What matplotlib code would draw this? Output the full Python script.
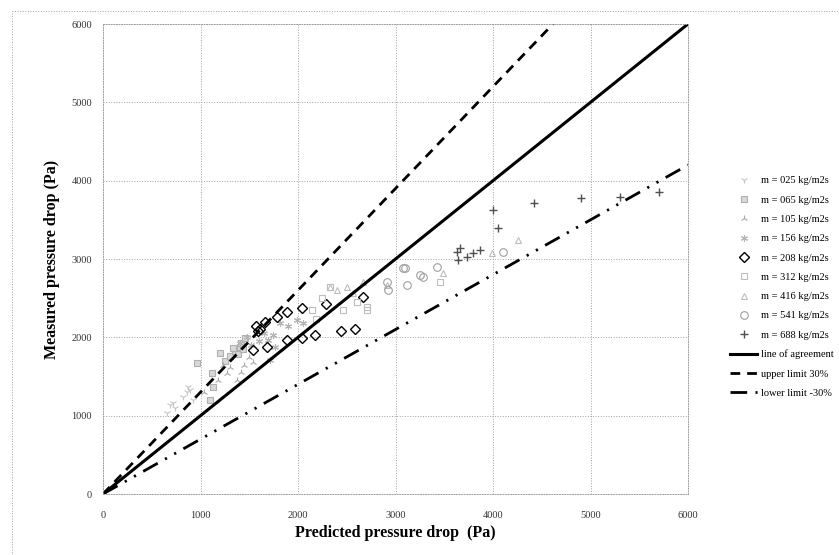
import matplotlib
matplotlib.use("Agg")
import matplotlib.pyplot as plt
from matplotlib.lines import Line2D

plt.rcParams['font.family'] = ['Liberation Serif', 'DejaVu Serif']

# predicted / measured pressure drop (Pa) per mass flux series
pred_025 = [653, 687, 721, 824, 875, 892, 926, 740, 860]
meas_025 = [1030, 1136, 1158, 1242, 1370, 1328, 1200, 1100, 1300]
pred_065 = [961, 1097, 1131, 1115, 1200, 1250, 1300, 1350, 1400, 1420, 1460, 1380, 1330, 1440]
meas_065 = [1668, 1200, 1370, 1541, 1796, 1700, 1760, 1820, 1880, 1930, 1990, 1790, 1870, 1850]
pred_105 = [1040, 1269, 1371, 1303, 1450, 1542, 1180, 1500, 1230, 1420]
meas_105 = [1300, 1541, 1455, 1625, 1650, 1689, 1450, 1750, 1650, 1560]
pred_156 = [1405, 1474, 1713, 1747, 1815, 1987, 2054, 1600, 1650, 1900, 1520, 1690, 1760]
meas_156 = [1924, 2008, 1711, 2030, 2179, 2221, 2179, 1950, 2050, 2150, 1900, 1960, 1880]
pred_208 = [1542, 1679, 1884, 2038, 2174, 2438, 2585, 2670, 2287, 2044, 1890, 1781, 1662, 1569, 1590, 1610]
meas_208 = [1838, 1881, 1966, 1987, 2030, 2081, 2102, 2519, 2422, 2379, 2328, 2264, 2200, 2145, 2080, 2110]
pred_312 = [2141, 2465, 2704, 2328, 2704, 3456, 2250, 2600, 2180]
meas_312 = [2349, 2349, 2391, 2647, 2349, 2710, 2500, 2450, 2230]
pred_416 = [2328, 2499, 2670, 2400, 3490, 3987, 4260, 2909, 2560]
meas_416 = [2647, 2647, 2710, 2600, 2817, 3073, 3243, 2668, 2560]
pred_541 = [2909, 2926, 3097, 3114, 3285, 3422, 4106, 3080, 3251]
meas_541 = [2710, 2604, 2881, 2668, 2774, 2902, 3093, 2881, 2796]
pred_688 = [3628, 3662, 3644, 3730, 3798, 3867, 4054, 4000, 4420, 4900, 5300, 5700]
meas_688 = [3093, 3137, 2987, 3030, 3073, 3115, 3392, 3620, 3720, 3780, 3790, 3850]

labels = ['m = 025 kg/m2s', 'm = 065 kg/m2s', 'm = 105 kg/m2s', 'm = 156 kg/m2s',
          'm = 208 kg/m2s', 'm = 312 kg/m2s', 'm = 416 kg/m2s', 'm = 541 kg/m2s',
          'm = 688 kg/m2s']
line_labels = ['line of agreement', 'upper limit 30%', 'lower limit -30%']

series = [(pred_025, meas_025), (pred_065, meas_065), (pred_105, meas_105),
          (pred_156, meas_156), (pred_208, meas_208), (pred_312, meas_312),
          (pred_416, meas_416), (pred_541, meas_541), (pred_688, meas_688)]

styles = [
    dict(marker='1', color='#c4c4c4', ms=5, mew=0.8),
    dict(marker='s', color='#b0b0b0', ms=4, mew=0.8, mfc='#d8d8d8'),
    dict(marker='2', color='#a8a8a8', ms=5, mew=0.8),
    dict(marker=(6, 2, 0), color='#b4b4b4', ms=5, mew=0.8),
    dict(marker='D', color='black', ms=5, mew=1.0, mfc='none'),
    dict(marker='s', color='#bdbdbd', ms=5, mew=0.8, mfc='none'),
    dict(marker='^', color='#bdbdbd', ms=5, mew=0.8, mfc='none'),
    dict(marker='o', color='#a0a0a0', ms=5.5, mew=0.8, mfc='none'),
    dict(marker='+', color='#505050', ms=6, mew=1.0),
]

fig = plt.figure(figsize=(8.39, 5.55), dpi=100)
ax = fig.add_axes([103 / 839, 1 - 494 / 555, 585 / 839, 470 / 555])

handles = []
for (px, py), st, lab in zip(series, styles, labels):
    h, = ax.plot(px, py, linestyle='none', label=lab, **st)
    handles.append(h)

# reference lines
lim = 6000
h1, = ax.plot([0, lim], [0, lim], color='black', lw=2.2)
h2, = ax.plot([0, lim / 1.3], [0, lim], color='black', lw=2.0, linestyle=(0, (3.5, 2.5)))
h3, = ax.plot([0, lim], [0, lim * 0.7], color='black', lw=2.0,
              linestyle=(0, (6, 3, 0.8, 3, 0.8, 3)))
handles += [h1, h2, h3]

ax.set_xlim(0, 6000)
ax.set_ylim(0, 6000)
ax.set_xticks(range(0, 6001, 1000))
ax.set_yticks(range(0, 6001, 1000))
ax.grid(True, color='#a0a0a0', linestyle=':', linewidth=0.7)
ax.set_axisbelow(True)
for sp in ax.spines.values():
    sp.set_linestyle(':')
    sp.set_color('#a0a0a0')
    sp.set_linewidth(0.7)
ax.tick_params(length=0, labelsize=7.5, colors='#333333')
ax.tick_params(axis='x', pad=12)
ax.tick_params(axis='y', pad=8)

ax.set_xlabel('Predicted pressure drop  (Pa)', fontsize=11.5, fontweight='bold', labelpad=4)
ax.set_ylabel('Measured pressure drop (Pa)', fontsize=11.5, fontweight='bold', labelpad=8)

fig.legend(handles, labels + line_labels, loc='upper left',
           bbox_to_anchor=(726 / 839, 1 - 172 / 555), frameon=False,
           fontsize=7.5, handlelength=2.6, labelspacing=0.96, handletextpad=0.4,
           borderaxespad=0)

# dotted chart-area border (top and left)
fig.add_artist(Line2D([12 / 839, 1.0], [1 - 11 / 555, 1 - 11 / 555], color='#a0a0a0',
                      linestyle=':', lw=0.7))
fig.add_artist(Line2D([12 / 839, 12 / 839], [0, 1 - 11 / 555], color='#a0a0a0',
                      linestyle=':', lw=0.7))

fig.savefig('out.png', dpi=100)
